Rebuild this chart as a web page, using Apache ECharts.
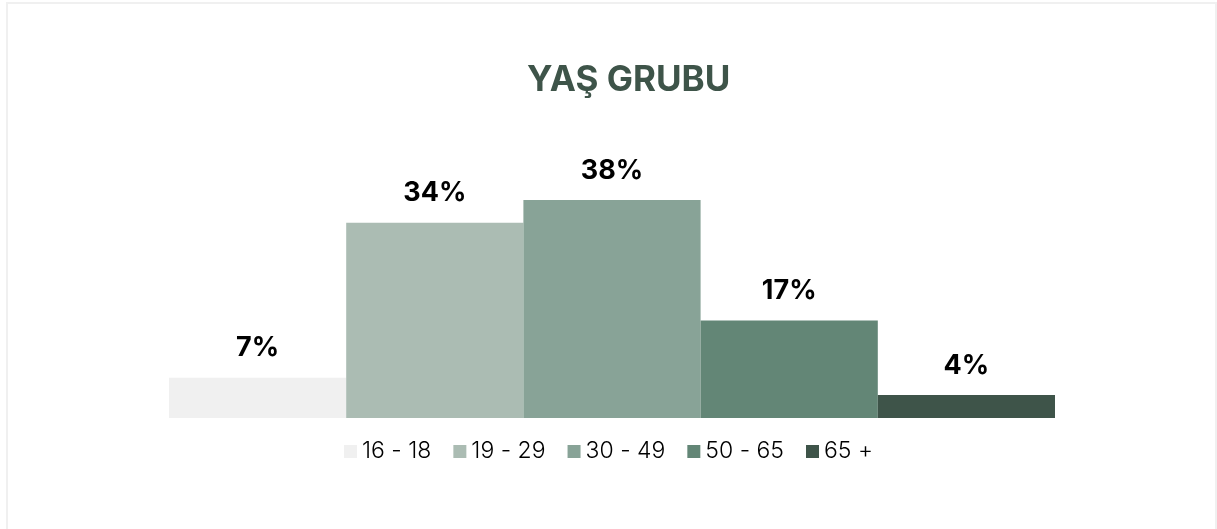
<!DOCTYPE html>
<html><head><meta charset="utf-8">
<script src="https://cdn.jsdelivr.net/npm/echarts@6/dist/echarts.min.js"></script>
<style>html,body{margin:0;padding:0;background:#fff}#c{position:absolute;left:6px;top:2px;width:1211px;height:527px;box-sizing:border-box;border:2px solid #f0f0f0;border-bottom:none}#chart{position:absolute;left:0;top:0;width:1217px;height:529px}</style>
</head><body>
<div id="c"></div>
<div id="chart"></div>
<script>
const title = 'YAŞ GRUBU';
const groups = ['16 - 18', '19 - 29', '30 - 49', '50 - 65', '65 +'];
const values = [7, 34, 38, 17, 4];
const colors = ['#f0f0f0', '#abbcb3', '#88a397', '#638676', '#3e5449'];
const chart = echarts.init(document.getElementById('chart'), null, {renderer: 'canvas'});
chart.setOption({
  animation: false,
  title: {text: title, left: 522, top: 58, textStyle: {fontFamily: 'Inter', fontWeight: 'bold', fontSize: 35, color: '#3e5449'}},
  legend: {data: groups, bottom: 61, left: 'center', itemWidth: 13, itemHeight: 13, itemGap: 22, icon: 'rect',
    textStyle: {fontFamily: 'Inter', fontWeight: 300, fontSize: 23, color: '#000', padding: [0,0,0,0]}},
  grid: {left: 169, right: 162, top: 131, bottom: 111},
  xAxis: {type: 'category', data: [''], show: false},
  yAxis: {type: 'value', min: 0, max: 50, show: false},
  series: groups.map((g, i) => ({
    name: g, type: 'bar', data: [values[i]], barGap: '0%', barCategoryGap: '0%',
    itemStyle: {color: colors[i]},
    label: {show: true, position: 'top', distance: 16, formatter: '{c}%', fontFamily: 'Inter', fontWeight: 'bold', fontSize: 27, color: '#000'}
  }))
});
</script>
</body></html>
